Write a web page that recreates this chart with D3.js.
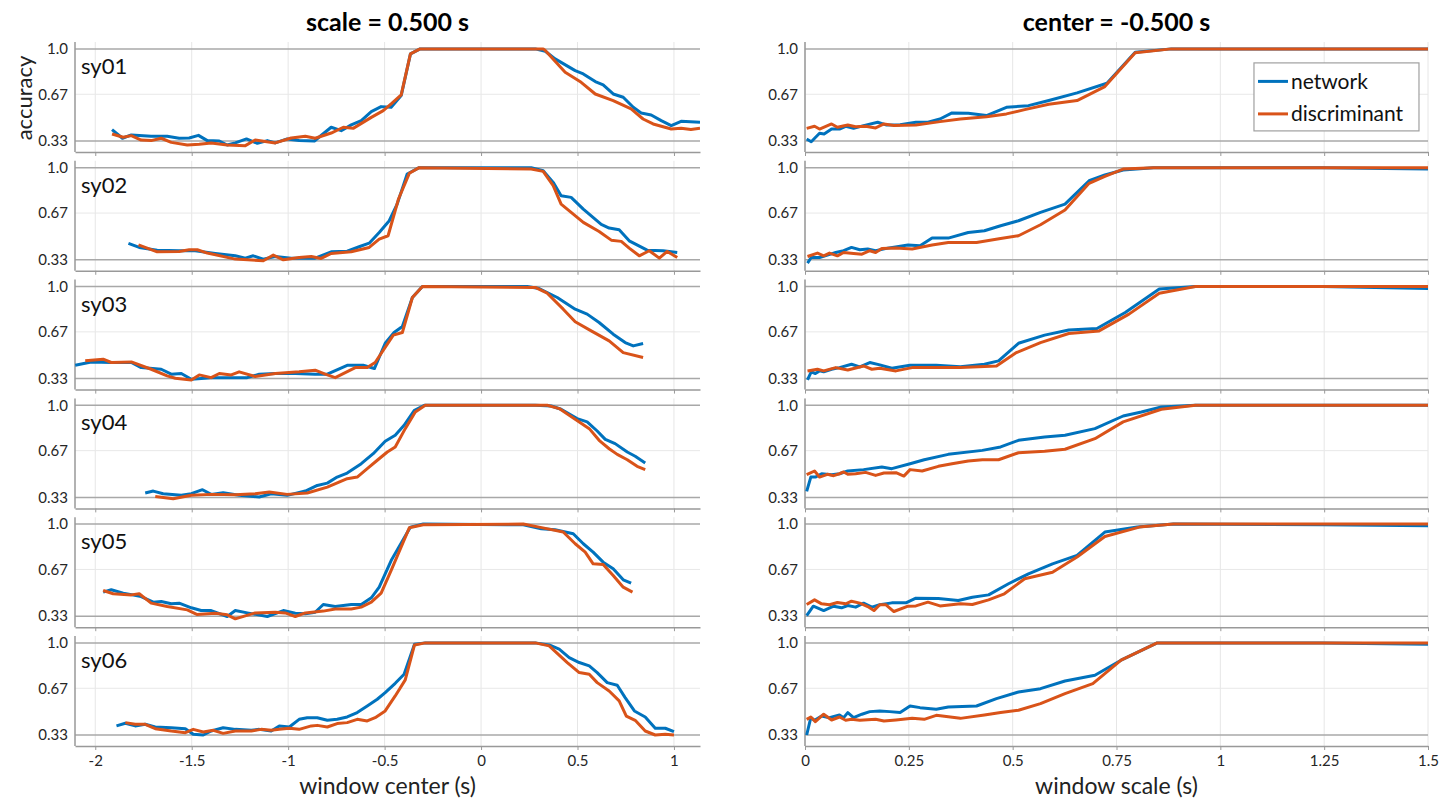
<!DOCTYPE html>
<html>
<head>
<meta charset="utf-8">
<script src="https://cdn.jsdelivr.net/npm/d3@7"></script>
<style>
  body { margin: 0; background: #fff; }
  svg { font-family: Lato, "Open Sans", sans-serif; }
  .tick-label { font-size: 15px; fill: #262626; }
  .row-label { font-size: 22px; fill: #111; }
</style>
</head>
<body>
<svg id="chart" width="1452" height="801"></svg>
<script>
// ---- data ----
const rowNames = ["sy01", "sy02", "sy03", "sy04", "sy05", "sy06"];
const seriesNames = ["network", "discriminant"];
const centerTicks = [-2, -1.5, -1, -0.5, 0, 0.5, 1];
const scaleTicks = [0, 0.25, 0.5, 0.75, 1, 1.25, 1.5];
const yTicks = [0.33, 0.67, 1.0];
const yTickLabels = ["0.33", "0.67", "1.0"];

// left column: accuracy vs window center (scale = 0.5 s), [x, accuracy]
const sy01CenterNet = [[-1.913,0.413],[-1.859,0.35],[-1.813,0.374],[-1.71,0.364],[-1.627,0.364],[-1.565,0.35],[-1.513,0.352],[-1.465,0.371],[-1.419,0.333],[-1.357,0.33],[-1.316,0.301],[-1.274,0.316],[-1.216,0.345],[-1.16,0.313],[-1.108,0.333],[-1.067,0.316],[-1.005,0.345],[-0.943,0.333],[-0.864,0.33],[-0.777,0.43],[-0.725,0.405],[-0.673,0.447],[-0.621,0.478],[-0.569,0.544],[-0.518,0.58],[-0.466,0.575],[-0.414,0.66],[-0.366,0.964],[-0.316,1.0],[0.281,1.0],[0.333,0.983],[0.384,0.927],[0.488,0.842],[0.53,0.818],[0.592,0.762],[0.633,0.738],[0.685,0.672],[0.737,0.648],[0.789,0.575],[0.83,0.534],[0.882,0.519],[0.934,0.478],[0.986,0.442],[1.037,0.473],[1.135,0.466]];
const sy01CenterDisc = [[-1.913,0.381],[-1.855,0.357],[-1.813,0.369],[-1.762,0.337],[-1.71,0.333],[-1.658,0.35],[-1.606,0.32],[-1.523,0.301],[-1.461,0.306],[-1.399,0.316],[-1.316,0.301],[-1.222,0.296],[-1.171,0.337],[-1.067,0.316],[-0.984,0.352],[-0.911,0.364],[-0.86,0.35],[-0.777,0.388],[-0.714,0.43],[-0.663,0.422],[-0.569,0.502],[-0.507,0.551],[-0.466,0.6],[-0.414,0.665],[-0.366,0.964],[-0.316,1.0],[0.322,1.0],[0.333,0.988],[0.436,0.83],[0.519,0.757],[0.592,0.672],[0.685,0.624],[0.778,0.563],[0.84,0.49],[0.892,0.454],[0.986,0.417],[1.037,0.422],[1.088,0.413],[1.135,0.422]];
const sy02CenterNet = [[-1.828,0.449],[-1.772,0.42],[-1.679,0.4],[-1.565,0.396],[-1.482,0.396],[-1.378,0.376],[-1.274,0.359],[-1.222,0.342],[-1.181,0.359],[-1.129,0.335],[-1.067,0.354],[-0.984,0.342],[-0.86,0.342],[-0.777,0.388],[-0.694,0.393],[-0.632,0.425],[-0.58,0.451],[-0.528,0.529],[-0.476,0.614],[-0.435,0.735],[-0.383,0.954],[-0.321,1.0],[0.26,1.0],[0.322,0.978],[0.374,0.893],[0.415,0.796],[0.467,0.784],[0.53,0.699],[0.623,0.587],[0.664,0.561],[0.716,0.549],[0.768,0.468],[0.861,0.4],[0.944,0.396],[1.017,0.383]];
const sy02CenterDisc = [[-1.776,0.439],[-1.679,0.388],[-1.565,0.391],[-1.513,0.403],[-1.471,0.403],[-1.419,0.379],[-1.274,0.335],[-1.129,0.323],[-1.077,0.364],[-1.025,0.33],[-0.943,0.347],[-0.88,0.354],[-0.829,0.34],[-0.777,0.376],[-0.673,0.388],[-0.58,0.42],[-0.528,0.481],[-0.482,0.505],[-0.428,0.772],[-0.372,0.959],[-0.321,1.0],[0.26,0.99],[0.322,0.973],[0.374,0.869],[0.415,0.735],[0.467,0.675],[0.53,0.602],[0.612,0.536],[0.675,0.473],[0.727,0.464],[0.768,0.415],[0.82,0.359],[0.872,0.396],[0.924,0.342],[0.965,0.391],[1.017,0.347]];
const sy03CenterNet = [[-2.104,0.427],[-2.021,0.451],[-1.917,0.447],[-1.813,0.447],[-1.762,0.41],[-1.658,0.398],[-1.606,0.362],[-1.554,0.367],[-1.502,0.325],[-1.399,0.337],[-1.295,0.337],[-1.212,0.337],[-1.15,0.362],[-1.067,0.367],[-0.963,0.367],[-0.86,0.362],[-0.797,0.362],[-0.694,0.427],[-0.611,0.427],[-0.553,0.403],[-0.497,0.587],[-0.451,0.665],[-0.408,0.709],[-0.356,0.92],[-0.304,1.0],[0.239,1.0],[0.301,0.985],[0.395,0.92],[0.488,0.835],[0.55,0.799],[0.612,0.738],[0.685,0.653],[0.747,0.592],[0.789,0.568],[0.84,0.585]];
const sy03CenterDisc = [[-2.052,0.459],[-1.959,0.471],[-1.917,0.447],[-1.813,0.451],[-1.71,0.398],[-1.627,0.35],[-1.585,0.333],[-1.502,0.32],[-1.461,0.357],[-1.399,0.337],[-1.357,0.367],[-1.295,0.357],[-1.254,0.379],[-1.171,0.345],[-1.067,0.367],[-0.943,0.379],[-0.86,0.391],[-0.808,0.362],[-0.756,0.337],[-0.652,0.41],[-0.59,0.41],[-0.549,0.447],[-0.455,0.646],[-0.408,0.665],[-0.356,0.92],[-0.304,1.0],[0.281,0.993],[0.343,0.951],[0.426,0.835],[0.488,0.743],[0.571,0.677],[0.664,0.604],[0.737,0.519],[0.84,0.483]];
const sy04CenterNet = [[-1.741,0.362],[-1.699,0.376],[-1.648,0.357],[-1.554,0.345],[-1.502,0.357],[-1.444,0.386],[-1.399,0.352],[-1.337,0.364],[-1.254,0.345],[-1.15,0.333],[-1.088,0.357],[-1.005,0.345],[-0.911,0.376],[-0.849,0.417],[-0.797,0.434],[-0.746,0.478],[-0.694,0.507],[-0.621,0.575],[-0.559,0.648],[-0.497,0.738],[-0.445,0.782],[-0.399,0.854],[-0.345,0.964],[-0.294,1.0],[0.281,1.0],[0.364,0.995],[0.415,0.971],[0.498,0.903],[0.55,0.879],[0.602,0.813],[0.644,0.752],[0.695,0.721],[0.758,0.66],[0.799,0.629],[0.851,0.58]];
const sy04CenterDisc = [[-1.689,0.337],[-1.596,0.32],[-1.502,0.345],[-1.399,0.352],[-1.274,0.35],[-1.171,0.357],[-1.098,0.369],[-1.005,0.352],[-0.901,0.362],[-0.797,0.405],[-0.694,0.466],[-0.642,0.478],[-0.59,0.539],[-0.538,0.6],[-0.486,0.66],[-0.445,0.697],[-0.393,0.83],[-0.341,0.951],[-0.289,1.0],[0.343,1.0],[0.405,0.976],[0.509,0.879],[0.561,0.83],[0.612,0.745],[0.664,0.684],[0.706,0.643],[0.758,0.604],[0.809,0.556],[0.851,0.532]];
const sy05CenterNet = [[-1.959,0.505],[-1.917,0.522],[-1.855,0.498],[-1.762,0.473],[-1.699,0.432],[-1.658,0.437],[-1.606,0.42],[-1.565,0.425],[-1.502,0.391],[-1.451,0.371],[-1.399,0.371],[-1.316,0.328],[-1.274,0.371],[-1.212,0.354],[-1.108,0.328],[-1.025,0.371],[-0.963,0.352],[-0.911,0.347],[-0.86,0.359],[-0.818,0.415],[-0.756,0.4],[-0.673,0.415],[-0.621,0.415],[-0.569,0.464],[-0.528,0.541],[-0.466,0.735],[-0.366,0.978],[-0.3,1.0],[0.136,0.995],[0.219,0.995],[0.312,0.966],[0.384,0.959],[0.478,0.93],[0.53,0.857],[0.581,0.796],[0.633,0.723],[0.685,0.675],[0.737,0.595],[0.778,0.57]];
const sy05CenterDisc = [[-1.959,0.517],[-1.907,0.493],[-1.813,0.485],[-1.772,0.493],[-1.71,0.425],[-1.627,0.4],[-1.523,0.376],[-1.471,0.342],[-1.378,0.352],[-1.316,0.34],[-1.274,0.311],[-1.171,0.354],[-1.067,0.359],[-1.015,0.354],[-0.963,0.328],[-0.911,0.354],[-0.818,0.367],[-0.756,0.383],[-0.673,0.383],[-0.621,0.396],[-0.569,0.432],[-0.518,0.498],[-0.466,0.663],[-0.372,0.973],[-0.3,0.995],[0.219,1.0],[0.301,0.978],[0.426,0.942],[0.488,0.857],[0.54,0.796],[0.581,0.711],[0.633,0.706],[0.685,0.626],[0.737,0.541],[0.785,0.505]];
const sy06CenterNet = [[-1.89,0.396],[-1.844,0.415],[-1.793,0.396],[-1.741,0.408],[-1.689,0.388],[-1.606,0.383],[-1.533,0.376],[-1.492,0.335],[-1.44,0.33],[-1.399,0.359],[-1.337,0.383],[-1.274,0.371],[-1.191,0.364],[-1.15,0.371],[-1.088,0.359],[-1.046,0.396],[-0.994,0.388],[-0.943,0.444],[-0.901,0.456],[-0.849,0.456],[-0.797,0.437],[-0.746,0.444],[-0.694,0.461],[-0.642,0.493],[-0.59,0.541],[-0.538,0.59],[-0.497,0.638],[-0.445,0.706],[-0.399,0.772],[-0.345,0.99],[-0.289,1.0],[0.281,1.0],[0.353,0.985],[0.405,0.954],[0.457,0.893],[0.509,0.857],[0.561,0.833],[0.602,0.784],[0.654,0.711],[0.706,0.692],[0.747,0.602],[0.795,0.505],[0.851,0.461],[0.903,0.379],[0.955,0.379],[1.0,0.354]];
const sy06CenterDisc = [[-1.844,0.42],[-1.793,0.408],[-1.741,0.408],[-1.689,0.376],[-1.606,0.359],[-1.533,0.347],[-1.492,0.371],[-1.44,0.352],[-1.388,0.364],[-1.337,0.342],[-1.274,0.359],[-1.191,0.359],[-1.14,0.371],[-1.088,0.364],[-1.046,0.371],[-0.994,0.379],[-0.943,0.371],[-0.88,0.396],[-0.849,0.4],[-0.797,0.388],[-0.746,0.413],[-0.694,0.42],[-0.642,0.444],[-0.59,0.432],[-0.549,0.456],[-0.497,0.505],[-0.445,0.614],[-0.393,0.731],[-0.345,0.985],[-0.289,1.0],[0.281,1.0],[0.353,0.978],[0.447,0.857],[0.509,0.784],[0.561,0.772],[0.602,0.711],[0.664,0.65],[0.716,0.578],[0.753,0.468],[0.799,0.437],[0.851,0.359],[0.903,0.33],[0.955,0.335],[1.0,0.33]];

// right column: accuracy vs window scale (center = -0.5 s), [x, accuracy]
const sy01ScaleNet = [[0.004,0.345],[0.015,0.325],[0.035,0.386],[0.046,0.381],[0.064,0.417],[0.083,0.417],[0.098,0.437],[0.117,0.422],[0.141,0.442],[0.175,0.466],[0.195,0.447],[0.229,0.449],[0.267,0.466],[0.296,0.466],[0.325,0.49],[0.354,0.534],[0.393,0.532],[0.437,0.515],[0.485,0.575],[0.538,0.587],[0.587,0.624],[0.655,0.68],[0.727,0.75],[0.795,0.976],[0.882,1.0],[1.5,1.0]];
const sy01ScaleDisc = [[0.004,0.422],[0.023,0.437],[0.035,0.417],[0.064,0.454],[0.078,0.43],[0.103,0.447],[0.122,0.434],[0.146,0.437],[0.17,0.425],[0.19,0.454],[0.214,0.442],[0.267,0.447],[0.325,0.471],[0.374,0.49],[0.437,0.507],[0.485,0.527],[0.529,0.558],[0.587,0.597],[0.655,0.624],[0.722,0.726],[0.795,0.971],[0.882,1.0],[1.5,1.0]];
const sy02ScaleNet = [[0.006,0.306],[0.015,0.347],[0.035,0.347],[0.054,0.364],[0.074,0.383],[0.093,0.396],[0.112,0.42],[0.132,0.403],[0.151,0.408],[0.17,0.396],[0.199,0.415],[0.248,0.437],[0.277,0.432],[0.306,0.488],[0.345,0.488],[0.393,0.529],[0.432,0.541],[0.471,0.578],[0.514,0.614],[0.567,0.675],[0.626,0.735],[0.684,0.905],[0.722,0.947],[0.766,0.983],[0.839,1.0],[1.245,1.0],[1.5,0.99]];
const sy02ScaleDisc = [[0.006,0.354],[0.03,0.379],[0.045,0.359],[0.059,0.379],[0.078,0.359],[0.093,0.383],[0.117,0.376],[0.137,0.371],[0.156,0.396],[0.17,0.383],[0.185,0.413],[0.219,0.415],[0.258,0.408],[0.306,0.437],[0.345,0.456],[0.413,0.456],[0.471,0.485],[0.514,0.505],[0.567,0.585],[0.626,0.692],[0.684,0.886],[0.722,0.937],[0.766,0.99],[0.839,1.0],[1.5,1.0]];
const sy03ScaleNet = [[0.006,0.32],[0.015,0.379],[0.025,0.367],[0.035,0.386],[0.045,0.379],[0.064,0.398],[0.083,0.41],[0.112,0.434],[0.132,0.415],[0.156,0.447],[0.18,0.43],[0.209,0.405],[0.253,0.427],[0.316,0.427],[0.374,0.417],[0.432,0.434],[0.466,0.459],[0.514,0.587],[0.577,0.646],[0.635,0.684],[0.703,0.694],[0.771,0.811],[0.853,0.981],[0.94,1.0],[1.245,1.0],[1.5,0.985]];
const sy03ScaleDisc = [[0.006,0.386],[0.03,0.398],[0.045,0.386],[0.074,0.41],[0.103,0.393],[0.141,0.422],[0.161,0.398],[0.18,0.405],[0.219,0.386],[0.258,0.41],[0.374,0.41],[0.461,0.422],[0.509,0.519],[0.567,0.592],[0.635,0.658],[0.708,0.677],[0.78,0.799],[0.853,0.951],[0.94,1.0],[1.5,1.0]];
const sy04ScaleNet = [[0.004,0.374],[0.014,0.478],[0.025,0.478],[0.04,0.502],[0.064,0.495],[0.083,0.502],[0.103,0.522],[0.141,0.532],[0.185,0.551],[0.209,0.539],[0.253,0.575],[0.287,0.604],[0.345,0.643],[0.427,0.672],[0.471,0.697],[0.514,0.745],[0.577,0.769],[0.626,0.782],[0.698,0.83],[0.766,0.922],[0.81,0.951],[0.858,0.988],[0.94,1.0],[1.5,1.0]];
const sy04ScaleDisc = [[0.004,0.495],[0.023,0.522],[0.035,0.478],[0.054,0.498],[0.069,0.488],[0.083,0.502],[0.093,0.515],[0.103,0.498],[0.122,0.502],[0.146,0.512],[0.17,0.49],[0.19,0.507],[0.219,0.51],[0.238,0.485],[0.253,0.532],[0.282,0.522],[0.321,0.556],[0.354,0.575],[0.393,0.595],[0.427,0.604],[0.466,0.604],[0.514,0.655],[0.577,0.665],[0.626,0.68],[0.698,0.757],[0.766,0.879],[0.858,0.971],[0.94,1.0],[1.5,1.0]];
const sy05ScaleNet = [[0.004,0.335],[0.02,0.403],[0.045,0.371],[0.069,0.403],[0.088,0.391],[0.103,0.408],[0.122,0.396],[0.141,0.425],[0.161,0.396],[0.18,0.413],[0.209,0.427],[0.243,0.427],[0.267,0.461],[0.321,0.459],[0.369,0.444],[0.403,0.468],[0.442,0.485],[0.49,0.566],[0.538,0.638],[0.596,0.711],[0.655,0.772],[0.722,0.942],[0.8,0.978],[0.887,1.0],[1.245,0.995],[1.5,0.988]];
const sy05ScaleDisc = [[0.004,0.415],[0.023,0.449],[0.04,0.42],[0.059,0.413],[0.078,0.43],[0.098,0.42],[0.112,0.439],[0.132,0.425],[0.151,0.4],[0.166,0.371],[0.18,0.413],[0.195,0.413],[0.214,0.364],[0.248,0.403],[0.267,0.405],[0.296,0.432],[0.325,0.405],[0.374,0.42],[0.403,0.415],[0.442,0.449],[0.48,0.493],[0.529,0.602],[0.596,0.65],[0.655,0.76],[0.722,0.91],[0.805,0.978],[0.887,1.0],[1.5,1.0]];
const sy06ScaleNet = [[0.004,0.33],[0.014,0.456],[0.023,0.437],[0.04,0.468],[0.059,0.456],[0.083,0.476],[0.093,0.456],[0.103,0.493],[0.117,0.456],[0.137,0.481],[0.156,0.5],[0.18,0.505],[0.204,0.5],[0.229,0.493],[0.253,0.541],[0.277,0.529],[0.316,0.517],[0.345,0.534],[0.413,0.541],[0.461,0.595],[0.514,0.643],[0.567,0.667],[0.626,0.723],[0.698,0.765],[0.761,0.874],[0.848,1.0],[1.245,1.0],[1.5,0.99]];
const sy06ScaleDisc = [[0.004,0.444],[0.014,0.461],[0.025,0.427],[0.045,0.481],[0.064,0.439],[0.083,0.461],[0.098,0.437],[0.112,0.444],[0.132,0.437],[0.17,0.444],[0.19,0.432],[0.219,0.439],[0.258,0.451],[0.287,0.444],[0.316,0.473],[0.374,0.451],[0.432,0.476],[0.471,0.493],[0.514,0.51],[0.567,0.558],[0.626,0.631],[0.693,0.704],[0.761,0.874],[0.848,1.0],[1.5,1.0]];

const centerSeries = [
  [sy01CenterNet, sy01CenterDisc], [sy02CenterNet, sy02CenterDisc], [sy03CenterNet, sy03CenterDisc],
  [sy04CenterNet, sy04CenterDisc], [sy05CenterNet, sy05CenterDisc], [sy06CenterNet, sy06CenterDisc]
];
const scaleSeries = [
  [sy01ScaleNet, sy01ScaleDisc], [sy02ScaleNet, sy02ScaleDisc], [sy03ScaleNet, sy03ScaleDisc],
  [sy04ScaleNet, sy04ScaleDisc], [sy05ScaleNet, sy05ScaleDisc], [sy06ScaleNet, sy06ScaleDisc]
];

// ---- layout ----
const colors = ["#0072BD", "#D95319"];
const rowTop0 = 42, rowPitch = 118.8, rowH = 110;

const columns = [
  { id: "c", x0: 75, x1: 700, domain: [-2.105, 1.135], ticks: centerTicks, series: centerSeries,
    title: "scale = 0.500 s", xlabel: "window center (s)" },
  { id: "s", x0: 805, x1: 1428, domain: [0, 1.5], ticks: scaleTicks, series: scaleSeries,
    title: "center = -0.500 s", xlabel: "window scale (s)" }
];

const svg = d3.select("#chart");
const defs = svg.append("defs");

const y = d3.scaleLinear().domain([0.25, 1.05]).range([rowH, 0]);

columns.forEach((col) => {
  const x = d3.scaleLinear().domain(col.domain).range([0, col.x1 - col.x0]);
  const w = col.x1 - col.x0;

  // column title
  svg.append("text")
    .attr("x", (col.x0 + col.x1) / 2).attr("y", 31)
    .attr("text-anchor", "middle")
    .style("font-size", "25px").style("font-weight", "bold").style("fill", "#000")
    .text(col.title);

  rowNames.forEach((name, i) => {
    const top = rowTop0 + i * rowPitch;
    const g = svg.append("g").attr("transform", "translate(" + col.x0 + "," + top + ")");

    const clipId = "clip-" + col.id + i;
    defs.append("clipPath").attr("id", clipId)
      .append("rect").attr("x", 0).attr("y", 0).attr("width", w).attr("height", rowH);

    // vertical grid
    g.selectAll(".vgrid").data(col.ticks).enter().append("line")
      .attr("x1", d => x(d)).attr("x2", d => x(d))
      .attr("y1", 0).attr("y2", rowH)
      .attr("stroke", "#e6e6e6").attr("stroke-width", 1);

    // horizontal grid, chance and ceiling drawn darker
    g.selectAll(".hgrid").data(yTicks).enter().append("line")
      .attr("x1", 0).attr("x2", w)
      .attr("y1", d => y(d)).attr("y2", d => y(d))
      .attr("stroke", d => d === 0.67 ? "#e8e8e8" : "#a8a8a8")
      .attr("stroke-width", d => d === 0.67 ? 1 : 1.5);

    // bottom axis with ticks
    const xAxis = d3.axisBottom(x).tickValues(col.ticks).tickSizeInner(4).tickSizeOuter(0)
      .tickPadding(3).tickFormat(d => (i === rowNames.length - 1 ? String(d) : ""));
    const ax = g.append("g").attr("transform", "translate(0," + rowH + ")").call(xAxis);
    ax.select(".domain").attr("stroke", "#999").attr("stroke-width", 1.5);
    ax.selectAll(".tick line").attr("stroke", "#999");
    ax.selectAll(".tick text").attr("class", "tick-label").attr("dy", "0.85em")
      .style("font-family", "Lato, 'Open Sans', sans-serif");

    // left axis line
    g.append("line").attr("x1", 0).attr("x2", 0).attr("y1", 0).attr("y2", rowH)
      .attr("stroke", "#999").attr("stroke-width", 1.5);

    // y tick labels
    g.selectAll(".ylab").data(yTicks).enter().append("text")
      .attr("class", "tick-label")
      .attr("x", -7).attr("y", d => y(d)).attr("dy", "0.35em")
      .attr("text-anchor", "end")
      .text((d, k) => yTickLabels[k]);

    // series
    const line = d3.line().x(d => x(d[0])).y(d => y(d[1]));
    const plot = g.append("g").attr("clip-path", "url(#" + clipId + ")");
    col.series[i].forEach((pts, s) => {
      plot.append("path").datum(pts)
        .attr("d", line)
        .attr("fill", "none")
        .attr("stroke", colors[s])
        .attr("stroke-width", 3)
        .attr("stroke-linejoin", "round");
    });

    if (col.id === "c") {
      g.append("text").attr("class", "row-label")
        .attr("x", 6).attr("y", 32).text(name);
    }

    // legend in first right panel
    if (col.id === "s" && i === 0) {
      const lg = g.append("g").attr("transform", "translate(" + (x(1.081)) + "," + y(0.898) + ")");
      lg.append("rect").attr("width", 165).attr("height", 68)
        .attr("fill", "#fff").attr("stroke", "#a0a0a0").attr("stroke-width", 1.2);
      seriesNames.forEach((sn, s) => {
        const ly = 18.5 + s * 32.5;
        lg.append("line").attr("x1", 4).attr("x2", 34).attr("y1", ly).attr("y2", ly)
          .attr("stroke", colors[s]).attr("stroke-width", 3);
        lg.append("text").attr("x", 37).attr("y", ly).attr("dy", "0.35em")
          .style("font-size", "21px").style("fill", "#111").text(sn);
      });
    }
  });

  // x axis title
  svg.append("text")
    .attr("x", (col.x0 + col.x1) / 2).attr("y", 794)
    .attr("text-anchor", "middle")
    .style("font-size", "23px").style("fill", "#222")
    .text(col.xlabel);
});

// y axis title
svg.append("text")
  .attr("transform", "translate(32,98) rotate(-90)")
  .attr("text-anchor", "middle")
  .style("font-size", "22px").style("fill", "#222")
  .text("accuracy");
</script>
</body>
</html>
